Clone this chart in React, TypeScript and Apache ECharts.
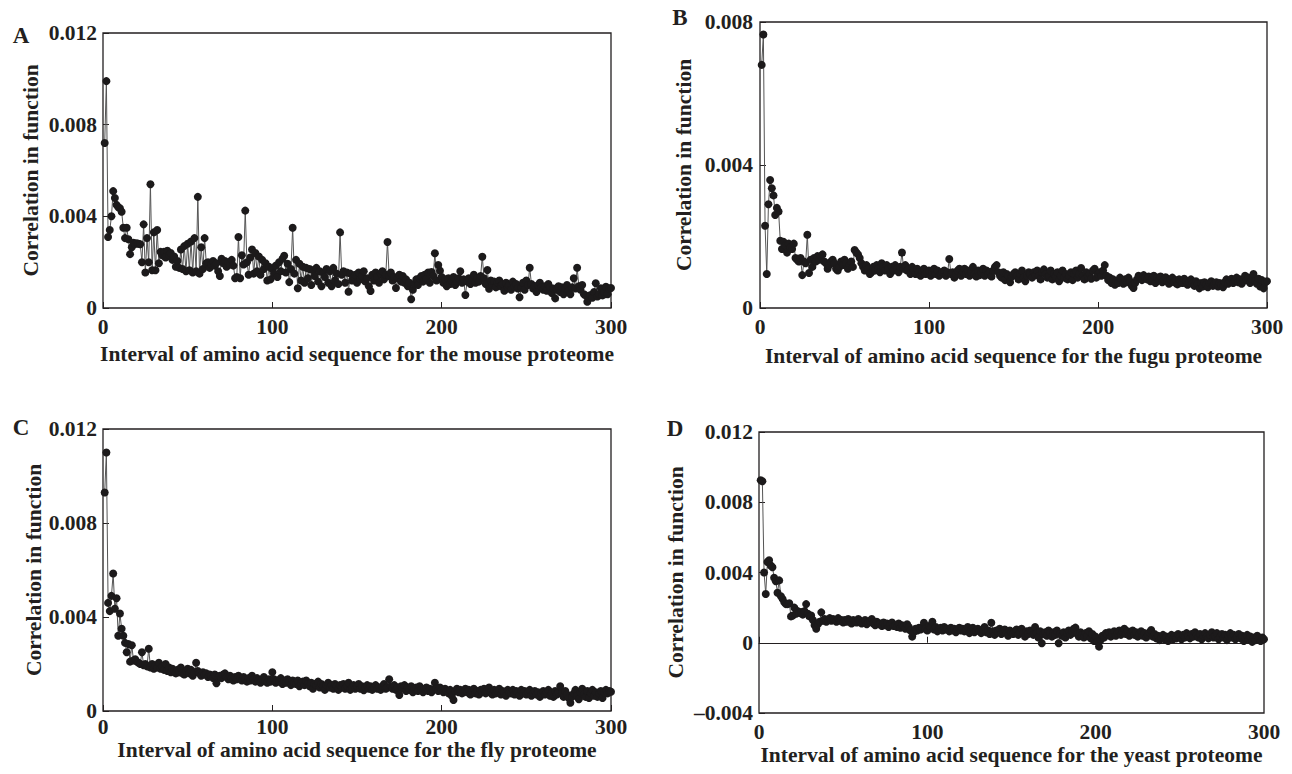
import React, { useEffect, useRef } from "react";
import * as echarts from "echarts";

// Correlation values, in units of 0.001, for sequence intervals 1..300
const UNIT = 0.001;
const lags: number[] = Array.from({ length: 300 }, (_, i) => i + 1);

const mouse = [
  7.2, 9.9, 3.1, 3.4, 4.0, 5.1, 4.8, 4.5, 4.4, 4.35,
  4.2, 3.5, 3.05, 3.5, 3.0, 2.35, 2.65, 2.85, 2.8, 2.82,
  2.8, 2.78, 2.0, 3.65, 1.55, 3.05, 2.0, 5.4, 1.65, 3.3,
  1.65, 3.4, 1.95, 2.45, 2.3, 2.45, 2.2, 2.5, 2.3, 2.4,
  2.1, 2.25, 1.8, 2.05, 1.75, 2.55, 1.7, 2.7, 1.6, 2.8,
  1.65, 2.9, 1.55, 3.05, 1.6, 4.85, 1.5, 2.65, 1.7, 3.05,
  1.95, 2.0, 1.75, 1.9, 2.05, 1.85, 1.95, 1.6, 1.4, 2.15,
  1.95, 2.05, 1.8, 2.0, 1.9, 2.1, 1.85, 1.3, 1.35, 3.1,
  1.3, 2.3, 1.9, 4.25, 2.0, 1.45, 2.2, 2.55, 1.5, 2.4,
  1.6, 2.25, 1.45, 2.1, 1.7, 1.95, 1.2, 1.8, 1.25, 1.7,
  1.5, 1.85, 1.35, 2.0, 1.6, 2.15, 2.28, 1.55, 1.93, 1.13,
  1.7, 3.5, 1.5, 2.1, 0.86, 1.93, 1.2, 1.8, 1.1, 1.75,
  1.3, 1.7, 1.0, 1.65, 1.4, 1.75, 1.15, 1.6, 0.95, 1.55,
  1.35, 1.7, 1.1, 1.6, 0.95, 1.75, 1.2, 1.5, 1.05, 3.3,
  1.45, 1.6, 1.1, 1.55, 0.71, 1.5, 1.2, 1.35, 1.45, 1.1,
  1.55, 1.25, 1.4, 1.6, 1.15, 1.3, 0.95, 0.74, 1.45, 1.2,
  1.55, 1.35, 1.1, 1.5, 1.6, 1.25, 1.45, 2.88, 1.4, 1.55,
  1.2, 1.35, 0.87, 1.3, 1.45, 1.15, 1.4, 1.1, 1.25, 0.95,
  1.1, 0.38, 0.8, 1.05, 1.25, 1.0, 1.3, 1.4, 1.15, 1.45,
  1.3, 1.55, 1.1, 1.57, 1.4, 2.39, 1.2, 1.88, 1.63, 1.35,
  1.1, 1.25, 0.95, 1.3, 1.05, 1.2, 1.35, 1.0, 1.15, 1.3,
  1.6, 1.1, 1.25, 0.57, 1.15, 1.3, 1.05, 1.2, 1.45, 1.1,
  1.3, 1.15, 1.4, 2.24, 1.3, 1.05, 1.66, 0.84, 1.2, 1.0,
  1.15, 0.9, 1.1, 1.2, 0.95, 1.05, 0.75, 1.1, 0.9, 1.0,
  0.8, 1.15, 0.95, 1.05, 0.85, 0.47, 0.9, 1.1, 0.8, 1.2,
  1.0, 1.76, 1.05, 0.85, 0.95, 0.7, 1.0, 1.1, 0.9, 0.8,
  0.95, 0.75, 1.05, 0.9, 0.65, 0.85, 0.42, 0.8, 0.95, 0.7,
  0.9, 0.6, 0.85, 1.0, 0.75, 0.6, 0.9, 1.3, 0.85, 1.76,
  0.95, 0.8, 1.0, 0.6, 0.55, 0.27, 0.5, 0.57, 0.45, 0.7,
  1.08, 0.5, 0.6, 0.86, 0.55, 0.7, 0.93, 0.6, 0.85, 0.87,
];

const fugu = [
  6.8, 7.65, 2.3, 0.95, 2.9, 3.58, 3.35, 3.15, 2.6, 2.8,
  2.7, 1.88, 1.65, 1.85, 1.75, 1.55, 1.8, 1.7, 1.65, 1.8,
  1.4, 1.35, 1.3, 1.4, 0.92, 1.3, 1.25, 2.05, 0.98, 1.35,
  1.15, 1.4, 1.3, 1.45, 1.35, 1.45, 1.5, 1.3, 1.25, 1.1,
  1.2, 1.3, 1.35, 1.25, 1.1, 1.05, 1.15, 1.3, 1.2, 1.35,
  1.25, 1.1, 1.2, 1.3, 1.15, 1.62, 1.55, 1.5, 1.4, 1.25,
  1.15, 1.05, 1.2, 1.1, 0.95, 1.0, 1.15, 1.05, 1.2, 1.1,
  1.0, 1.25, 1.15, 1.05, 1.2, 1.1, 0.95, 1.15, 1.05, 1.2,
  1.1, 1.0, 1.15, 1.55, 1.1, 1.2, 1.05, 1.1, 0.95, 1.15,
  1.05, 0.95, 1.1, 1.0, 0.9, 1.05, 1.1, 0.95, 1.0, 1.05,
  0.9, 1.0, 1.1, 0.95, 1.05, 0.9, 0.95, 1.0, 1.05, 0.9,
  1.0, 1.37, 0.95, 1.0, 0.85, 0.95, 1.05, 1.1, 0.9, 1.0,
  1.1, 0.95, 1.05, 0.9, 1.0, 1.15, 0.95, 0.88, 1.05, 0.92,
  1.0, 1.1, 0.9, 1.05, 0.95, 1.0, 0.88, 1.05, 1.15, 1.2,
  1.0, 0.9, 0.85, 1.0, 0.78, 0.95, 0.9, 0.72, 0.88, 0.95,
  1.0, 0.9, 0.8, 0.95, 1.05, 0.85, 0.75, 0.9, 1.0, 0.95,
  0.85, 1.0, 0.92, 1.05, 0.9, 0.8, 1.0, 1.08, 0.95, 0.85,
  0.9, 1.05, 0.8, 0.95, 0.88, 1.0, 0.75, 0.9, 1.05, 0.85,
  0.95, 0.8, 0.9, 1.0, 0.78, 0.95, 1.05, 0.85, 0.95, 1.12,
  0.9, 0.8, 1.0, 0.88, 0.95, 0.82, 1.05, 1.1, 0.85, 0.95,
  1.0, 0.9, 1.05, 1.2, 0.9, 0.78, 0.85, 0.7, 0.8, 0.65,
  0.75, 0.7, 0.85, 0.78, 0.68, 0.8, 0.72, 0.85, 0.75, 0.62,
  0.56, 0.7, 0.8, 0.9, 0.85, 0.78, 0.92, 0.85, 0.8, 0.88,
  0.75, 0.82, 0.9, 0.7, 0.85, 0.78, 0.88, 0.72, 0.8, 0.86,
  0.75, 0.68, 0.8, 0.85, 0.72, 0.78, 0.66, 0.8, 0.74, 0.7,
  0.82, 0.76, 0.65, 0.72, 0.8, 0.7, 0.62, 0.75, 0.68, 0.55,
  0.7, 0.6, 0.72, 0.66, 0.58, 0.7, 0.75, 0.62, 0.68, 0.72,
  0.6, 0.7, 0.65, 0.58, 0.72, 0.8, 0.68, 0.75, 0.82, 0.7,
  0.78, 0.85, 0.72, 0.8, 0.68, 0.75, 0.9, 0.78, 0.85, 0.7,
  0.8, 0.95, 0.75, 0.68, 0.82, 0.6, 0.78, 0.55, 0.72, 0.75,
];

const fly = [
  9.3, 11.0, 4.6, 4.25, 4.9, 5.85, 4.35, 4.8, 3.2, 4.15,
  3.5, 3.2, 2.9, 2.5, 2.85, 2.1, 2.8, 2.15, 2.2, 2.1,
  2.05, 2.0, 2.5, 1.95, 2.0, 1.9, 2.65, 1.85, 2.0, 1.8,
  1.95, 1.85, 2.05, 1.8, 1.9, 1.75, 2.0, 1.7, 1.85, 1.65,
  1.8, 1.7, 1.6, 1.75, 1.65, 1.85, 1.6, 1.55, 1.7, 1.8,
  1.6, 1.75, 1.5, 1.65, 2.05, 1.7, 1.6, 1.5, 1.65, 1.55,
  1.6, 1.45, 1.55, 1.5, 1.4, 1.55, 1.18, 1.45, 1.5, 1.4,
  1.55, 1.6, 1.45, 1.35, 1.5, 1.4, 1.3, 1.45, 1.35, 1.5,
  1.4, 1.3, 1.45, 1.35, 1.25, 1.4, 1.3, 1.5, 1.35, 1.25,
  1.4, 1.3, 1.2, 1.35, 1.45, 1.3, 1.2, 1.35, 1.25, 1.65,
  1.35, 1.2, 1.3, 1.25, 1.4, 1.15, 1.3, 1.2, 1.35, 1.25,
  1.1, 1.3, 1.2, 1.15, 1.3, 1.05, 1.2, 1.25, 1.1, 1.3,
  1.15, 1.05, 1.2, 0.95, 1.15, 1.1, 1.25, 1.0, 1.15, 1.05,
  0.9, 1.1, 1.2, 1.0, 1.1, 0.95, 1.15, 1.05, 0.9, 1.1,
  1.0, 1.15, 0.95, 1.05, 1.2, 0.9, 1.0, 1.1, 0.95, 1.05,
  1.15, 0.95, 1.05, 0.88, 1.0, 1.1, 0.95, 1.05, 0.9, 1.0,
  1.1, 0.95, 1.0, 0.9, 1.05, 1.15, 0.95, 1.0, 1.35, 1.05,
  0.95, 1.1, 0.9, 1.0, 0.68, 1.05, 0.95, 1.1, 0.85, 1.0,
  0.9, 1.05, 0.8, 0.95, 1.0, 0.85, 1.05, 0.9, 0.8, 0.95,
  1.0, 0.85, 0.95, 0.8, 0.9, 1.2, 0.95, 0.85, 1.0, 0.9,
  0.8, 0.95, 0.85, 0.75, 0.9, 0.65, 0.47, 0.85, 0.95, 0.8,
  0.9, 0.75, 0.85, 0.95, 0.8, 0.9, 0.7, 0.85, 0.95, 0.75,
  0.85, 0.7, 0.9, 0.8, 0.95, 0.75, 0.85, 1.0, 0.8, 0.7,
  0.9, 0.75, 0.85, 0.95, 0.7, 0.85, 0.8, 0.65, 0.9, 0.8,
  0.75, 0.9, 0.7, 0.85, 0.8, 0.65, 0.9, 0.75, 0.85, 0.7,
  0.8, 0.9, 0.65, 0.75, 0.85, 0.7, 0.8, 0.6, 0.75, 0.85,
  0.7, 0.8, 0.9, 0.65, 0.75, 0.6, 0.85, 0.7, 0.8, 1.05,
  0.75, 0.6, 0.85, 0.7, 0.55, 0.35, 0.6, 0.75, 0.9, 0.65,
  0.5, 0.8, 0.95, 0.7, 0.6, 0.85, 0.55, 0.75, 0.9, 0.65,
  0.8, 0.6, 0.75, 0.85, 0.55, 0.8, 0.9, 0.75, 0.85, 0.82,
];

const yeast = [
  9.25, 9.2, 4.0, 2.78, 4.6, 4.7, 4.4, 4.3, 3.7, 3.5,
  2.85, 3.55, 2.65, 2.5, 2.3, 2.2, 2.2, 2.25, 1.5, 1.55,
  2.0, 1.65, 1.8, 1.7, 1.75, 1.6, 1.8, 2.2, 1.65, 1.5,
  1.55, 1.3, 1.0, 0.8, 1.05, 1.2, 1.73, 1.25, 1.35, 1.2,
  1.3, 1.4, 1.25, 1.35, 1.3, 1.2, 1.4, 1.25, 1.3, 1.15,
  1.3, 1.2, 1.35, 1.25, 1.1, 1.3, 1.2, 1.15, 1.35, 1.25,
  1.1, 1.2, 1.3, 1.05, 1.15, 1.25, 1.35, 1.1, 1.0, 1.2,
  1.05, 1.1, 0.95, 1.15, 1.0, 1.1, 0.9, 1.05, 1.15, 0.95,
  1.0, 0.9, 1.1, 0.85, 1.0, 0.95, 0.8, 1.05, 0.9, 0.7,
  0.35, 0.6, 0.8, 0.7, 0.85, 0.75, 0.9, 1.14, 0.8, 0.7,
  0.95, 0.85, 1.2, 0.75, 0.9, 0.65, 0.8, 0.85, 0.7, 0.9,
  0.75, 0.8, 0.65, 0.85, 0.7, 0.8, 0.6, 0.75, 0.85, 0.7,
  0.8, 0.65, 0.7, 0.9, 0.55, 0.75, 0.85, 0.6, 0.7, 0.8,
  0.65, 0.55, 0.75, 0.9, 0.6, 0.7, 0.5, 1.14, 0.65, 0.45,
  0.7, 0.6, 0.8, 0.5, 0.65, 0.75, 0.55, 0.4, 0.7, 0.6,
  0.5, 0.65, 0.75, 0.45, 0.6, 0.8, 0.55, 0.35, 0.65, 0.5,
  0.7, 0.6, 0.45, 0.9, 0.55, 0.3, 0.65, -0.03, 0.5, 0.6,
  0.4, 0.7, 0.55, 0.35, 0.6, 0.45, 0.7, -0.03, 0.5, 0.4,
  0.6, 0.3, 0.55, 0.7, 0.45, 0.65, 0.8, 0.86, 0.5, 0.35,
  0.6, 0.45, 0.3, 0.55, 0.4, 0.65, 0.25, 0.5, 0.1, 0.35,
  0.05, -0.22, 0.15, 0.4, 0.3, 0.55, 0.45, 0.6, 0.35, 0.5,
  0.65, 0.4, 0.55, 0.7, 0.45, 0.6, 0.8, 0.5, 0.65, 0.4,
  0.55, 0.7, 0.45, 0.6, 0.35, 0.5, 0.65, 0.4, 0.55, 0.3,
  0.45, 0.6, 0.73, 0.35, 0.5, 0.25, 0.4, 0.15, 0.3, 0.45,
  0.2, 0.35, 0.1, 0.3, 0.45, 0.2, 0.4, 0.25, 0.5, 0.35,
  0.2, 0.45, 0.3, 0.55, 0.4, 0.25, 0.5, 0.35, 0.6, 0.45,
  0.3, 0.5, 0.2, 0.4, 0.55, 0.35, 0.25, 0.45, 0.6, 0.3,
  0.4, 0.55, 0.2, 0.35, 0.5, 0.3, 0.45, 0.15, 0.4, 0.55,
  0.3, 0.45, 0.2, 0.35, 0.5, 0.25, 0.4, 0.1, 0.3, 0.45,
  0.2, 0.35, 0.05, 0.3, 0.15, 0.4, 0.25, 0.1, 0.3, 0.2,
];

const panelLetters = ["A", "B", "C", "D"];
const organisms = ["mouse", "fugu", "fly", "yeast"];
const yMins = [0, 0, 0, -0.004];
const yMaxs = [0.012, 0.008, 0.012, 0.012];
const yIntervals = [0.004, 0.004, 0.004, 0.004];
const yTitle = "Correlation in function";

const INK = "#231f20";
const FONT = "'Liberation Serif', 'Times New Roman', serif";
const FS = 21.5;

export default function App() {
  const ref = useRef<HTMLDivElement>(null);

  useEffect(() => {
    const chart = echarts.init(ref.current!, null, { renderer: "svg" });
    const seriesData = [mouse, fugu, fly, yeast];

    // layout of each panel's plotting box (page pixels)
    const boxes = [
      { left: 103, top: 33, width: 508, height: 275, yGap: 61, xGap: 35, xMargin: 8, yMargin: 6 },
      { left: 760, top: 22, width: 507, height: 286, yGap: 65, xGap: 37, xMargin: 8, yMargin: 7 },
      { left: 103, top: 429, width: 508, height: 282, yGap: 57, xGap: 24, xMargin: 5, yMargin: 6 },
      { left: 759, top: 432, width: 505, height: 281, yGap: 72, xGap: 20, xMargin: 8, yMargin: 6 },
    ];
    const letterPos = [
      { x: 21, y: 35 },
      { x: 680, y: 17 },
      { x: 21, y: 427 },
      { x: 675, y: 428 },
    ];

    const textStyle = { fontFamily: FONT, fontWeight: "bold" as const, color: INK, fontSize: FS };
    const tickStyle = { show: true, inside: true, length: 6, lineStyle: { color: INK, width: 1 } };

    const grids = boxes.map((b) => ({
      left: b.left,
      top: b.top,
      width: b.width,
      height: b.height,
      show: true,
      borderColor: INK,
      borderWidth: 1.3,
      backgroundColor: "transparent",
      containLabel: false,
      outerBoundsMode: "none",
    }));

    const xAxes: any[] = boxes.map((b, i) => {
      const hasNeg = yMins[i] < 0;
      return {
        type: "value",
        gridIndex: i,
        position: "bottom",
        min: 0,
        max: 300,
        interval: 100,
        name: "Interval of amino acid sequence for the " + organisms[i] + " proteome",
        nameLocation: "middle",
        nameGap: b.xGap,
        nameTextStyle: { ...textStyle },
        axisLine: { show: false, onZero: false },
        axisTick: hasNeg ? { show: false } : tickStyle,
        axisLabel: { ...textStyle, margin: b.xMargin },
        splitLine: { show: false },
      };
    });
    // zero line with its ticks for the panel whose range goes below zero
    boxes.forEach((b, i) => {
      if (yMins[i] < 0) {
        xAxes.push({
          type: "value",
          gridIndex: i,
          position: "bottom",
          min: 0,
          max: 300,
          interval: 100,
          axisLine: { show: true, onZero: true, lineStyle: { color: INK, width: 1 } },
          axisTick: tickStyle,
          axisLabel: { show: false },
          splitLine: { show: false },
        });
      }
    });

    const yAxes = boxes.map((b, i) => ({
      type: "value",
      gridIndex: i,
      min: yMins[i],
      max: yMaxs[i],
      interval: yIntervals[i],
      name: yTitle,
      nameLocation: "middle",
      nameGap: b.yGap,
      nameTextStyle: { ...textStyle },
      axisLine: { show: false, onZero: false },
      axisTick: tickStyle,
      axisLabel: {
        ...textStyle,
        margin: b.yMargin,
        formatter: (v: number) => {
          if (Math.abs(v) < 1e-12) return "0";
          if (v < 0) return "\u2013" + Math.abs(v).toFixed(3);
          return v.toFixed(3);
        },
      },
      splitLine: { show: false },
    }));

    const series = seriesData.map((vals, i) => ({
      type: "line",
      name: organisms[i],
      xAxisIndex: i,
      yAxisIndex: i,
      data: vals.map((v, k) => [lags[k], v * UNIT]),
      symbol: "circle",
      symbolSize: 8,
      showSymbol: true,
      clip: false,
      itemStyle: { color: "#1c1a1b" },
      lineStyle: { color: "#555555", width: 1 },
      z: 3,
    }));

    const graphics = panelLetters.map((t, i) => ({
      type: "text",
      x: letterPos[i].x,
      y: letterPos[i].y,
      style: {
        text: t,
        fontFamily: FONT,
        fontWeight: "bold",
        fontSize: 23,
        fill: INK,
        align: "center",
        verticalAlign: "middle",
      },
    }));

    chart.setOption({
      animation: false,
      backgroundColor: "#ffffff",
      grid: grids,
      xAxis: xAxes,
      yAxis: yAxes,
      series,
      graphic: graphics,
    });

    return () => chart.dispose();
  }, []);

  return (
    <div
      ref={ref}
      style={{ position: "absolute", left: 0, top: 0, width: 1292, height: 774, background: "#fff" }}
    />
  );
}
